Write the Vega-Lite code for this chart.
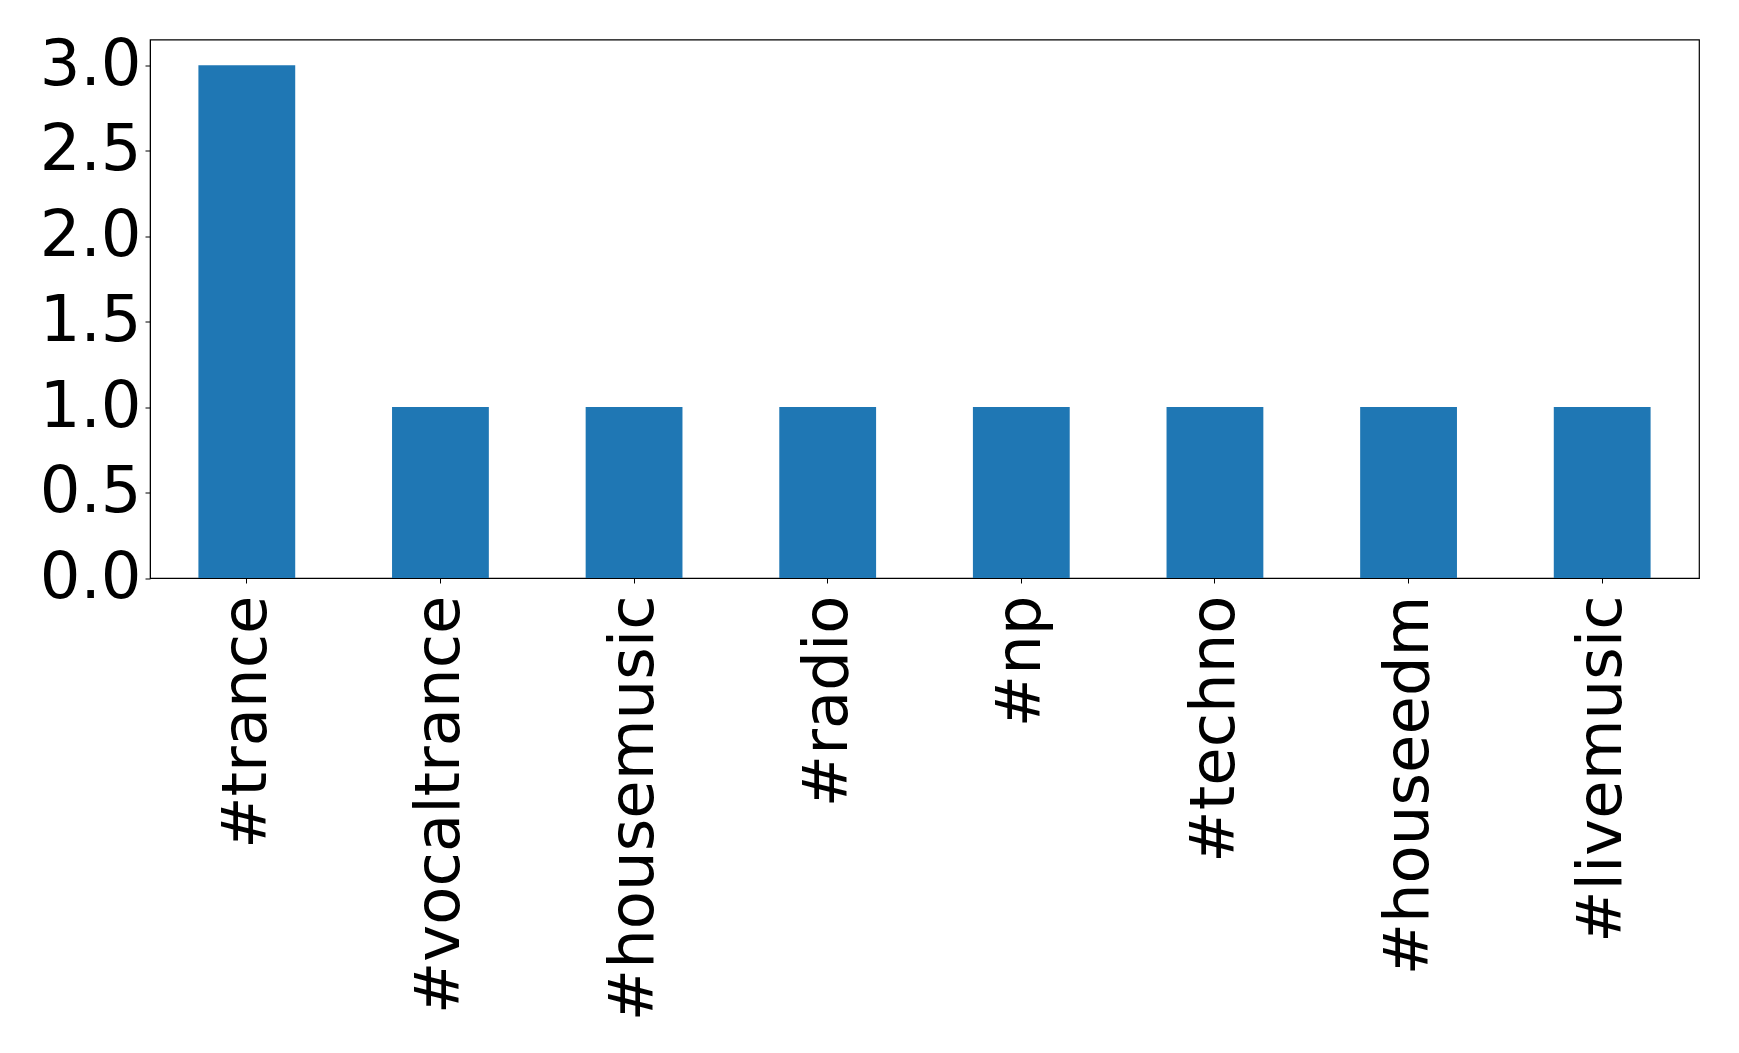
{
  "$schema": "https://vega.github.io/schema/vega-lite/v6.json",
  "autosize": {"type": "none"},
  "padding": {"left": 150, "top": 39.5, "right": 40, "bottom": 475},
  "width": 1549,
  "height": 538.5,
  "background": "white",
  "config": {
    "view": {"stroke": "black", "strokeWidth": 1.2},
    "font": "DejaVu Sans"
  },
  "data": {
    "values": [
      {"tag": "#trance", "count": 3},
      {"tag": "#vocaltrance", "count": 1},
      {"tag": "#housemusic", "count": 1},
      {"tag": "#radio", "count": 1},
      {"tag": "#np", "count": 1},
      {"tag": "#techno", "count": 1},
      {"tag": "#houseedm", "count": 1},
      {"tag": "#livemusic", "count": 1}
    ]
  },
  "mark": {"type": "bar", "color": "#1f77b4"},
  "encoding": {
    "x": {
      "field": "tag",
      "type": "nominal",
      "sort": null,
      "scale": {"paddingInner": 0.5, "paddingOuter": 0.25},
      "axis": {
        "title": null,
        "labelAngle": -90,
        "labelAlign": "right",
        "labelBaseline": "middle",
        "labelFontSize": 62.5,
        "labelColor": "black",
        "labelPadding": 12,
        "labelLimit": 0,
        "labelOverlap": false,
        "tickSize": 5,
        "tickColor": "black",
        "domainColor": "black",
        "labelFont": "DejaVu Sans"
      }
    },
    "y": {
      "field": "count",
      "type": "quantitative",
      "scale": {"domain": [0, 3.15], "nice": false, "zero": true},
      "axis": {
        "title": null,
        "values": [0, 0.5, 1, 1.5, 2, 2.5, 3],
        "format": ".1f",
        "grid": false,
        "labelFontSize": 64,
        "labelColor": "black",
        "labelPadding": 4,
        "labelOverlap": false,
        "tickSize": 5,
        "tickColor": "black",
        "domainColor": "black",
        "labelFont": "DejaVu Sans"
      }
    }
  }
}
